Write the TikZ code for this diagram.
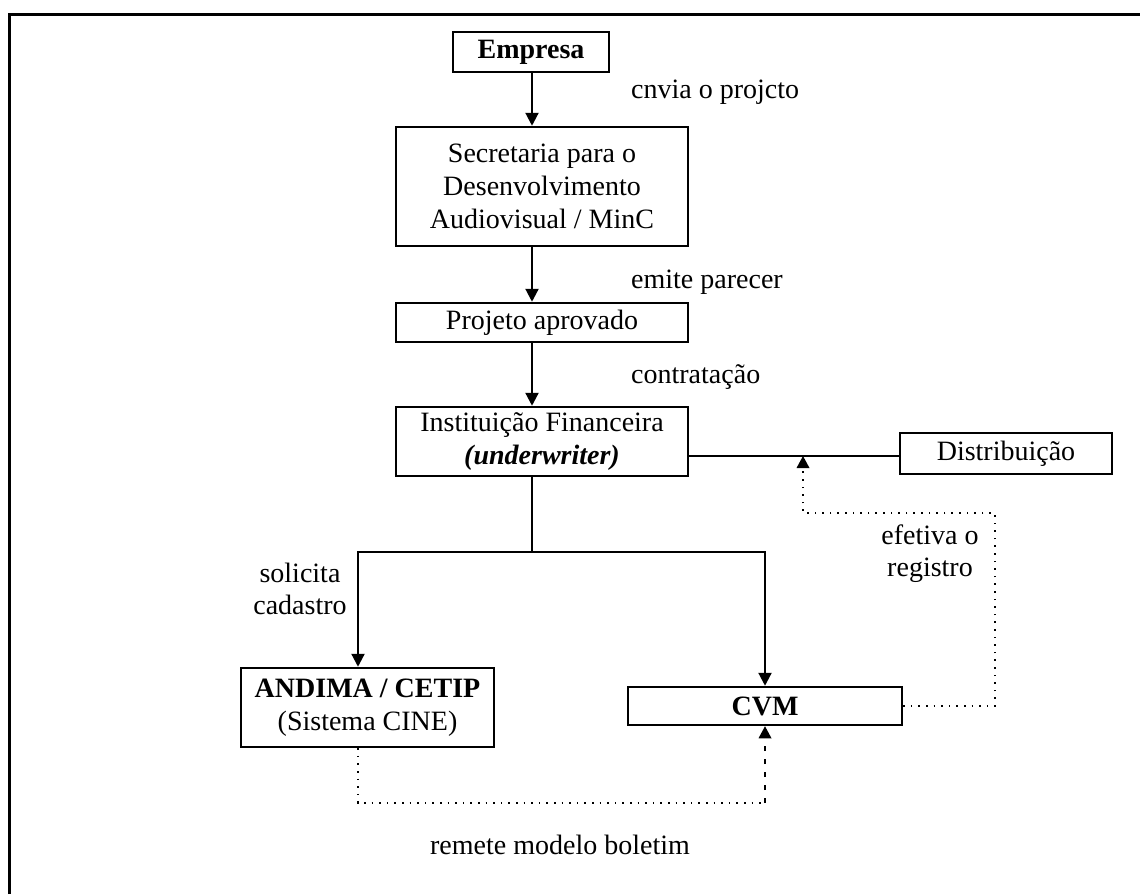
\documentclass[tikz,border=0pt]{standalone}
\usepackage{fontspec}
\setmainfont{Liberation Serif}
\usetikzlibrary{arrows.meta,calc}
\tikzset{
  box/.style={draw, line width=2.5pt, inner sep=0pt, align=center, font=\fontsize{28}{33}\selectfont},
  lbl/.style={align=center, inner sep=0pt, font=\fontsize{28}{32}\selectfont},
  conn/.style={line width=2.2pt},
  arr/.style={conn, -{Triangle[width=13pt,length=13pt]}},
  dotl/.style={line width=1.6pt, dash pattern=on 1.6pt off 6pt},
  thickdot/.style={line width=2.8pt, dash pattern=on 5pt off 8pt},
}
\begin{document}
\begin{tikzpicture}[x=1pt,y=-1pt]
\useasboundingbox (0,0) rectangle (1140,894);
\draw[line width=3pt] (9,894) -- (9,14) -- (1140,14);

\node[box, minimum width=156pt, minimum height=40pt] (emp) at (531,52) {\textbf{Empresa}};
\node[box, minimum width=292pt, minimum height=119pt] (sec) at (542,186.5) {Secretaria para o\\Desenvolvimento\\Audiovisual / MinC};
\node[box, minimum width=292pt, minimum height=39pt] (proj) at (542,322.5) {Projeto aprovado};
\node[box, minimum width=292pt, minimum height=69pt] (inst) at (542,441.5) {Instituição Financeira\\\textbf{\textit{(underwriter)}}};
\node[box, minimum width=212pt, minimum height=41pt] (dist) at (1006,453.5) {Distribuição};
\node[box, minimum width=253pt, minimum height=79pt] (andima) at (367.5,707.5) {\textbf{ANDIMA / CETIP}\\(Sistema CINE)};
\node[box, minimum width=274pt, minimum height=38pt] (cvm) at (765,706) {\textbf{CVM}};

\node[lbl, anchor=west] (l1) at (631,92) {cnvia o projcto};
\node[lbl, anchor=west] (l2) at (631,282) {emite parecer};
\node[lbl, anchor=west] (l3) at (631,377) {contratação};
\node[lbl] (l4) at (930,554) {efetiva o\\registro};
\node[lbl] (l5) at (300,589) {solicita\\cadastro};
\node[lbl] (l6) at (560,845) {remete modelo boletim};

\coordinate (cx) at (532,0);
\draw[arr] (emp.south -| cx) -- (sec.north -| cx);
\draw[arr] (sec.south -| cx) -- (proj.north -| cx);
\draw[arr] (proj.south -| cx) -- (inst.north -| cx);

\coordinate (br) at (532,552);
\coordinate (bl) at (358,552);
\coordinate (brr) at (765,552);
\draw[conn] (inst.south -| br) -- (br);
\draw[arr] (br) -- (bl) -- (bl |- andima.north);
\draw[arr] (br) -- (brr) -- (cvm.north);

\coordinate (dl) at (688,456);
\coordinate (reg) at (803,456);
\draw[conn] (dl) -- (dl -| dist.west);
\coordinate (c1) at (995,513);
\draw[dotl] (cvm.east) -| (c1) -| ($(reg)+(0,8)$);
\fill (reg) -- ++(6.5,12) -- ++(-13,0) -- cycle;

\coordinate (bb) at (765,803);
\draw[dotl] (andima.south -| bl) |- (bb);
\draw[thickdot] (bb) -- ($(cvm.south)+(0,10)$);
\fill (cvm.south) -- ++(6.5,12) -- ++(-13,0) -- cycle;
\end{tikzpicture}
\end{document}
